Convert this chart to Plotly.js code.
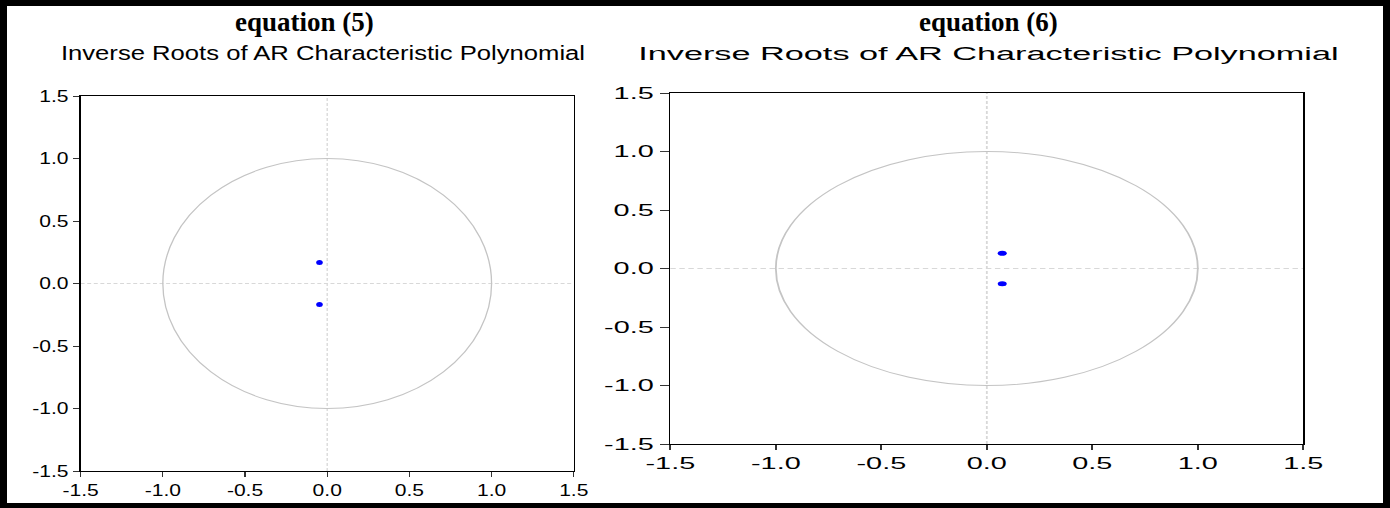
<!DOCTYPE html>
<html>
<head>
<meta charset="utf-8">
<script src="https://cdn.plot.ly/plotly-3.0.1.min.js"></script>
<style>
  html, body { margin: 0; padding: 0; background: #ffffff; }
  #wrap { position: relative; width: 1390px; height: 508px; overflow: hidden; }
  #base { position: absolute; left: 0; top: 0; width: 1390px; height: 508px; }
  #p1 { position: absolute; left: 7px; top: 0; width: 451px; height: 508px;
        transform: scaleX(1.315); transform-origin: 0 0; }
  #p2 { position: absolute; left: 600px; top: 0; width: 434px; height: 508px;
        transform: scaleX(1.8034); transform-origin: 0 0; }
</style>
</head>
<body>
<div id="wrap">
  <div id="base"></div>
  <div id="p1"></div>
  <div id="p2"></div>
</div>
<script>
// ---- data ----
const panelTitles = ["equation (5)", "equation (6)"];
const subTitle = "Inverse Roots of AR Characteristic Polynomial";
const eq5Real = [-0.047, -0.047];
const eq5Imag = [0.168, -0.168];
const eq6Real = [0.073, 0.073];
const eq6Imag = [0.13, -0.13];
const tickVals = [-1.5, -1.0, -0.5, 0.0, 0.5, 1.0, 1.5];
const tickText = ["-1.5", "-1.0", "-0.5", "0.0", "0.5", "1.0", "1.5"];
const axisRange = [-1.5, 1.5];
const unitRadius = 1;

const sansFont = "Liberation Sans, Arial, sans-serif";
const serifFont = "Liberation Serif, Times New Roman, serif";

// ---- base layer: frame and bold titles ----
Plotly.newPlot("base", [], {
  width: 1390, height: 508,
  margin: {l: 0, r: 0, t: 0, b: 0},
  paper_bgcolor: "#ffffff", plot_bgcolor: "#ffffff",
  xaxis: {visible: false, range: [0, 1]},
  yaxis: {visible: false, range: [0, 1]},
  shapes: [
    {type: "rect", xref: "paper", yref: "paper", x0: 0, x1: 7/1390, y0: 0, y1: 1, fillcolor: "#000", line: {width: 0}},
    {type: "rect", xref: "paper", yref: "paper", x0: 1383/1390, x1: 1, y0: 0, y1: 1, fillcolor: "#000", line: {width: 0}},
    {type: "rect", xref: "paper", yref: "paper", x0: 0, x1: 1, y0: 1 - 6/508, y1: 1, fillcolor: "#000", line: {width: 0}},
    {type: "rect", xref: "paper", yref: "paper", x0: 0, x1: 1, y0: 0, y1: 5/508, fillcolor: "#000", line: {width: 0}}
  ],
  annotations: [
    {text: "<b>" + panelTitles[0] + "</b>", xref: "paper", yref: "paper", x: 304/1390, y: 1 - 22/508,
     xanchor: "center", yanchor: "middle", showarrow: false,
     font: {family: serifFont, size: 27, color: "#000"}},
    {text: "<b>" + panelTitles[1] + "</b>", xref: "paper", yref: "paper", x: 989/1390, y: 1 - 22/508,
     xanchor: "center", yanchor: "middle", showarrow: false,
     font: {family: serifFont, size: 27, color: "#000"}}
  ]
}, {staticPlot: true, displayModeBar: false});

function axisStyle() {
  return {
    range: axisRange, autorange: false, fixedrange: true,
    tickmode: "array", tickvals: tickVals, ticktext: tickText,
    ticks: "outside", ticklen: 5, tickwidth: 1, tickcolor: "#333333",
    showline: true, linecolor: "#000000", linewidth: 1, mirror: true,
    showgrid: false, zeroline: false,
    tickfont: {family: sansFont, size: 16, color: "#000000"}
  };
}

function panel(div, W, margin, subX, reals, imags, subSize) {
  const trace = {
    type: "scatter", mode: "markers", x: reals, y: imags,
    marker: {color: "#0000ff", size: 5, line: {width: 0}},
    hoverinfo: "skip", showlegend: false
  };
  const layout = {
    width: W, height: 508, margin: margin,
    paper_bgcolor: "rgba(0,0,0,0)", plot_bgcolor: "#ffffff",
    showlegend: false,
    title: {text: subTitle, xref: "container", yref: "container",
            x: subX, y: 1 - 53/508, xanchor: "center", yanchor: "middle",
            font: {family: sansFont, size: subSize, color: "#000000"}},
    xaxis: axisStyle(),
    yaxis: axisStyle(),
    shapes: [
      {type: "line", xref: "x", yref: "paper", x0: 0, x1: 0, y0: 0, y1: 1,
       line: {color: "#d8d8d8", width: 1, dash: "3px,2px"}, layer: "below"},
      {type: "line", xref: "paper", yref: "y", x0: 0, x1: 1, y0: 0, y1: 0,
       line: {color: "#d8d8d8", width: 1, dash: "3px,2px"}, layer: "below"},
      {type: "circle", xref: "x", yref: "y", x0: -unitRadius, x1: unitRadius, y0: -unitRadius, y1: unitRadius,
       line: {color: "#c4c4c4", width: 1}, layer: "below"}
    ]
  };
  Plotly.newPlot(div, [trace], layout, {staticPlot: true, displayModeBar: false});
}

panel("p1", 451, {l: 56.3, r: 19.8, t: 96, b: 37}, 240.3/451, eq5Real, eq5Imag, 19.5);
panel("p2", 434, {l: 39.4, r: 43.6, t: 93, b: 64}, 215.4/434, eq6Real, eq6Imag, 19);
</script>
</body>
</html>
